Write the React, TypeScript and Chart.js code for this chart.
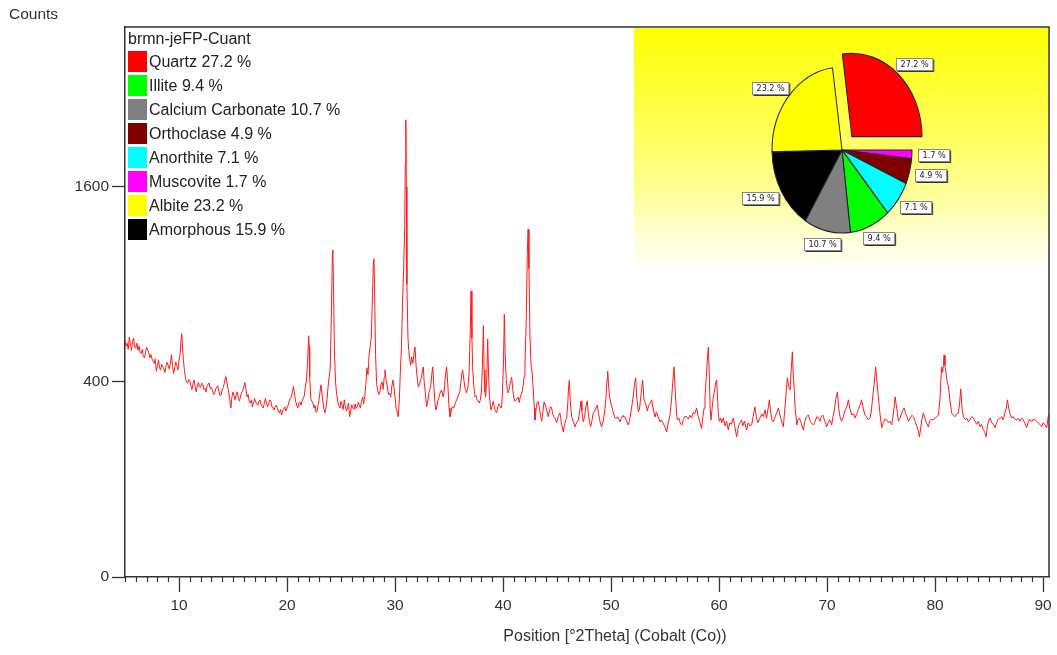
import React, { useEffect, useRef } from "react";
import { Chart, registerables } from "chart.js";

Chart.register(...registerables);

// ---------- data ----------
const sampleName = "brmn-jeFP-Cuant";
const yAxisTitle = "Counts";
const xAxisTitle = "Position [°2Theta] (Cobalt (Co))";

const xTickValues = [10, 20, 30, 40, 50, 60, 70, 80, 90];
const yTickCounts = [0, 400, 1600];
const xMin = 5;
const xMax = 90.55;
const yMaxCounts = 3180;

const phaseNames = ["Quartz", "Illite", "Calcium Carbonate", "Orthoclase", "Anorthite", "Muscovite", "Albite", "Amorphous"];
const phasePercents = [27.2, 9.4, 10.7, 4.9, 7.1, 1.7, 23.2, 15.9];
const phaseColors = ["#ff0000", "#00ff00", "#808080", "#800000", "#00ffff", "#ff00ff", "#ffff00", "#000000"];
const pieOrder = ["Quartz", "Muscovite", "Orthoclase", "Anorthite", "Illite", "Calcium Carbonate", "Amorphous", "Albite"];
const pieExploded = ["Quartz"];

// [2theta, counts]
const patternLow: number[][] = [
  [5.0, 590], [5.1, 560], [5.2, 575], [5.3, 545], [5.4, 605], [5.5, 570], [5.6, 540], [5.7, 580], [5.8, 600], [5.9, 555],
  [6.0, 550], [6.1, 575], [6.2, 540], [6.3, 560], [6.4, 530], [6.5, 525], [6.6, 545], [6.7, 510], [6.8, 505], [6.9, 530],
  [7.0, 555], [7.1, 540], [7.2, 530], [7.3, 505], [7.4, 520], [7.5, 500], [7.6, 490], [7.7, 480], [7.8, 500], [7.9, 445],
  [8.0, 470], [8.1, 495], [8.2, 460], [8.3, 450], [8.4, 475], [8.5, 465], [8.6, 455], [8.7, 440], [8.8, 470], [8.9, 485],
  [9.0, 470], [9.1, 455], [9.2, 480], [9.3, 520], [9.4, 470], [9.5, 435], [9.6, 460], [9.7, 485], [9.8, 470], [9.9, 450],
  [10.0, 495], [10.1, 520], [10.2, 600], [10.25, 622], [10.3, 580], [10.4, 500], [10.5, 450], [10.6, 415], [10.7, 400], [10.8, 395],
  [10.9, 410], [11.0, 405], [11.1, 385], [11.2, 370], [11.3, 395], [11.4, 408], [11.5, 380], [11.6, 360], [11.7, 385], [11.8, 398],
  [11.9, 380], [12.0, 378], [12.1, 395], [12.2, 390], [12.3, 370], [12.4, 375], [12.5, 360], [12.6, 380], [12.7, 390], [12.8, 396],
  [12.9, 372], [13.0, 378], [13.1, 365], [13.2, 350], [13.3, 356], [13.4, 372], [13.5, 380], [13.6, 385], [13.7, 360], [13.8, 345],
  [13.9, 350], [14.0, 368], [14.1, 378], [14.2, 395], [14.3, 418], [14.35, 422], [14.45, 395], [14.6, 360], [14.7, 330], [14.8, 300],
  [14.9, 340], [15.0, 360], [15.1, 345], [15.2, 330], [15.3, 352], [15.4, 360], [15.5, 335], [15.6, 325], [15.7, 345], [15.8, 358],
  [15.9, 366], [16.0, 380], [16.1, 398], [16.2, 370], [16.3, 341], [16.4, 350], [16.5, 325], [16.6, 318], [16.7, 330], [16.8, 304],
  [16.9, 320], [17.0, 335], [17.1, 322], [17.2, 315], [17.3, 310], [17.4, 325], [17.5, 330], [17.6, 312], [17.7, 305], [17.8, 300],
  [17.9, 318], [18.0, 335], [18.1, 318], [18.2, 304], [18.3, 315], [18.4, 330], [18.5, 325], [18.6, 305], [18.7, 300], [18.8, 293],
  [18.9, 305], [19.0, 310], [19.1, 300], [19.2, 290], [19.3, 283], [19.4, 295], [19.5, 276], [19.6, 290], [19.7, 298], [19.8, 304],
  [19.9, 290], [20.0, 300],
];

const patternMid: number[][] = [
  [20.1, 310], [20.2, 325], [20.3, 335], [20.4, 341], [20.5, 360], [20.6, 382], [20.7, 350], [20.8, 325], [20.9, 310], [21.0, 300],
  [21.1, 318], [21.2, 322], [21.3, 310], [21.4, 325], [21.5, 335], [21.6, 345], [21.7, 380], [21.8, 408], [21.9, 480], [22.0, 612],
  [22.05, 560], [22.1, 420], [22.2, 335], [22.3, 325], [22.4, 318], [22.5, 300], [22.6, 310], [22.7, 285], [22.8, 290], [22.9, 315],
  [23.0, 340], [23.1, 375], [23.15, 388], [23.3, 330], [23.4, 300], [23.5, 283], [23.6, 300], [23.7, 330], [23.8, 380], [23.9, 420],
  [24.0, 455], [24.1, 700], [24.2, 1100], [24.25, 1124], [24.3, 900], [24.4, 520], [24.5, 396], [24.6, 350], [24.7, 322], [24.8, 310],
  [24.9, 300], [25.0, 325], [25.1, 310], [25.2, 295], [25.3, 330], [25.4, 305], [25.5, 290], [25.6, 300], [25.7, 318], [25.8, 270],
  [25.9, 290], [26.0, 312], [26.1, 300], [26.2, 295], [26.3, 315], [26.4, 298], [26.5, 305], [26.6, 320], [26.7, 310], [26.8, 300],
  [26.9, 325], [27.0, 340], [27.1, 315], [27.2, 345], [27.3, 390], [27.4, 460], [27.5, 430], [27.6, 520], [27.7, 560], [27.8, 600],
  [27.9, 800], [28.0, 1050], [28.05, 1064], [28.1, 900], [28.2, 520], [28.3, 390], [28.4, 365], [28.5, 350], [28.6, 360], [28.7, 390],
  [28.8, 400], [28.9, 370], [29.0, 420], [29.07, 451], [29.2, 400], [29.3, 380], [29.4, 350], [29.5, 356], [29.6, 340], [29.7, 380],
  [29.8, 408], [29.9, 380], [30.0, 340], [30.1, 300], [30.2, 285], [30.3, 270], [30.4, 330], [30.5, 450], [30.6, 560], [30.7, 800],
  [30.8, 1000], [30.9, 1300], [30.95, 1800], [31.0, 2197], [31.05, 1600], [31.1, 900], [31.2, 600], [31.25, 556], [31.35, 500], [31.45, 470],
  [31.54, 509], [31.65, 480], [31.75, 520], [31.85, 556], [31.95, 470], [32.05, 420], [32.16, 380], [32.3, 395], [32.45, 420], [32.55, 450],
  [32.62, 464], [32.7, 400], [32.8, 360], [32.93, 304], [33.05, 330], [33.15, 360], [33.3, 380], [33.4, 430], [33.49, 464], [33.6, 380],
  [33.7, 320], [33.79, 293], [33.9, 310], [34.0, 330], [34.1, 345], [34.2, 360], [34.32, 368], [34.45, 340], [34.55, 360], [34.65, 420],
  [34.78, 464], [34.9, 380], [35.0, 300], [35.09, 270], [35.2, 290], [35.3, 305], [35.45, 300], [35.6, 320], [35.71, 330], [35.85, 345],
  [36.0, 360], [36.1, 400], [36.2, 440], [36.26, 451], [36.4, 400], [36.5, 370], [36.63, 356], [36.75, 380], [36.85, 430], [36.95, 600],
  [37.04, 860], [37.12, 600], [37.2, 450], [37.3, 380], [37.41, 341], [37.5, 345], [37.6, 330], [37.7, 325], [37.8, 318], [37.9, 330],
  [38.0, 360], [38.08, 450], [38.18, 664], [38.25, 450], [38.32, 360], [38.39, 340], [38.5, 420], [38.58, 596], [38.66, 430], [38.75, 340],
  [38.89, 293], [39.0, 310], [39.1, 325], [39.2, 300], [39.3, 290], [39.41, 283], [39.5, 300], [39.6, 315], [39.7, 310], [39.8, 300],
  [39.87, 304], [39.95, 360], [40.05, 500], [40.12, 727], [40.2, 520], [40.3, 410], [40.4, 370], [40.49, 356], [40.6, 380], [40.7, 400],
  [40.8, 420], [40.9, 370], [41.0, 340], [41.1, 325], [41.26, 330], [41.4, 340], [41.5, 320], [41.6, 340], [41.73, 356], [41.85, 380],
  [41.95, 420], [42.03, 464], [42.15, 700], [42.25, 1100], [42.32, 1271], [42.4, 1000], [42.5, 600], [42.6, 470], [42.7, 440], [42.8, 368],
  [42.9, 300], [42.96, 259], [43.05, 290], [43.15, 320], [43.27, 322], [43.4, 290], [43.5, 270], [43.58, 255], [43.7, 290], [43.8, 322],
  [43.88, 322], [44.0, 300], [44.1, 285], [44.19, 270], [44.3, 290], [44.4, 305], [44.5, 300], [44.6, 280], [44.7, 270], [44.8, 265],
  [44.97, 250],
];

const patternHigh: number[][] = [
  [45.1, 270], [45.27, 283], [45.4, 250], [45.58, 221], [45.7, 245], [45.8, 260], [45.89, 266], [46.0, 320], [46.07, 380], [46.14, 408],
  [46.22, 330], [46.35, 270], [46.5, 255], [46.66, 237], [46.8, 250], [46.97, 259], [47.1, 290], [47.22, 326], [47.3, 290], [47.43, 253],
  [47.55, 270], [47.65, 300], [47.8, 326], [47.9, 280], [48.0, 255], [48.11, 237], [48.25, 260], [48.36, 283], [48.5, 290], [48.6, 300],
  [48.73, 311], [48.85, 280], [49.0, 250], [49.13, 237], [49.3, 260], [49.45, 300], [49.55, 350], [49.63, 410], [49.69, 446], [49.78, 380],
  [49.87, 340], [49.97, 322], [50.1, 300], [50.2, 285], [50.37, 266], [50.5, 265], [50.6, 270], [50.7, 262], [50.83, 253], [50.95, 265],
  [51.1, 275], [51.2, 268], [51.29, 270], [51.45, 255], [51.6, 243], [51.75, 265], [51.91, 304], [52.05, 340], [52.18, 390], [52.28, 417],
  [52.38, 340], [52.53, 286], [52.65, 300], [52.8, 360], [52.93, 408], [53.05, 330], [53.15, 320], [53.24, 311], [53.35, 290], [53.5, 310],
  [53.65, 320], [53.76, 330], [53.9, 300], [54.0, 280], [54.07, 270], [54.2, 285], [54.35, 270], [54.53, 253], [54.65, 260], [54.8, 250],
  [54.95, 240], [55.15, 221], [55.3, 250], [55.46, 276], [55.6, 330], [55.72, 400], [55.83, 464], [55.95, 360], [56.05, 290], [56.14, 259],
  [56.3, 265], [56.4, 250], [56.54, 243], [56.7, 260], [56.85, 272], [57.0, 270], [57.15, 262], [57.3, 275], [57.46, 266], [57.6, 285],
  [57.75, 280], [57.93, 300], [58.05, 275], [58.2, 255], [58.39, 232], [58.5, 270], [58.62, 300], [58.7, 341], [58.82, 420], [58.92, 500],
  [59.01, 556], [59.1, 420], [59.18, 300], [59.26, 259], [59.36, 300], [59.47, 341], [59.6, 370], [59.7, 400], [59.78, 408], [59.88, 320],
  [59.95, 270], [60.03, 255], [60.15, 265], [60.25, 250], [60.4, 266], [60.55, 240], [60.7, 255], [60.86, 227], [61.0, 250], [61.15, 245],
  [61.32, 266], [61.45, 240], [61.63, 206], [61.8, 240], [61.95, 250], [62.09, 259], [62.2, 240], [62.35, 255], [62.56, 227], [62.7, 250],
  [62.85, 240], [63.02, 243], [63.15, 270], [63.33, 304], [63.45, 270], [63.6, 250], [63.79, 266], [63.95, 280], [64.1, 270], [64.26, 293],
  [64.4, 265], [64.55, 300], [64.66, 330], [64.8, 280], [64.9, 260], [65.03, 253], [65.2, 270], [65.35, 285], [65.49, 300], [65.6, 283],
  [65.75, 260], [65.95, 237], [66.1, 300], [66.25, 380], [66.33, 417], [66.45, 380], [66.58, 368], [66.68, 450], [66.79, 533], [66.88, 420],
  [66.95, 380], [67.05, 300], [67.2, 243], [67.3, 260], [67.44, 266], [67.6, 250], [67.81, 227], [67.95, 255], [68.1, 270], [68.27, 276],
  [68.4, 260], [68.55, 250], [68.74, 243], [68.9, 255], [69.05, 270], [69.2, 266], [69.35, 255], [69.45, 270], [69.6, 276], [69.8, 255],
  [69.97, 237],
];

const patternTail: number[][] = [
  [70.1, 250], [70.25, 260], [70.43, 243], [70.55, 270], [70.68, 293], [70.8, 330], [70.96, 360], [71.08, 300], [71.2, 270], [71.35, 255],
  [71.5, 270], [71.67, 293], [71.8, 300], [71.98, 330], [72.1, 300], [72.29, 276], [72.45, 280], [72.6, 266], [72.75, 280], [72.9, 295],
  [73.05, 310], [73.2, 330], [73.35, 300], [73.5, 276], [73.65, 270], [73.8, 260], [73.98, 266], [74.1, 290], [74.23, 341], [74.38, 400],
  [74.5, 464], [74.62, 400], [74.75, 341], [74.9, 280], [75.06, 234], [75.2, 250], [75.35, 262], [75.53, 259], [75.7, 250], [75.85, 255],
  [75.99, 243], [76.1, 270], [76.2, 300], [76.3, 341], [76.45, 300], [76.61, 255], [76.75, 265], [76.9, 280], [77.0, 290], [77.13, 300],
  [77.25, 285], [77.4, 270], [77.53, 255], [77.7, 265], [77.85, 275], [78.0, 270], [78.15, 255], [78.3, 240], [78.45, 225], [78.55, 206],
  [78.7, 240], [78.8, 265], [78.92, 283], [79.05, 265], [79.2, 250], [79.38, 237], [79.5, 255], [79.65, 262], [79.85, 259], [80.0, 265],
  [80.15, 270], [80.31, 276], [80.45, 330], [80.55, 420], [80.62, 464], [80.7, 440], [80.77, 470], [80.83, 518], [80.92, 470], [81.02, 438],
  [81.12, 400], [81.24, 380], [81.4, 320], [81.54, 283], [81.7, 275], [81.85, 270], [82.0, 280], [82.16, 283], [82.28, 320], [82.38, 372],
  [82.5, 300], [82.62, 270], [82.8, 260], [82.95, 265], [83.09, 253], [83.25, 260], [83.4, 270], [83.55, 266], [83.7, 255], [83.85, 245],
  [84.0, 255], [84.17, 237], [84.3, 245], [84.45, 230], [84.6, 220], [84.72, 206], [84.85, 240], [84.95, 255], [85.1, 266], [85.25, 250],
  [85.4, 245], [85.56, 234], [85.7, 250], [85.85, 262], [86.0, 265], [86.17, 270], [86.3, 260], [86.45, 280], [86.6, 300], [86.7, 330],
  [86.82, 300], [86.95, 280], [87.1, 266], [87.25, 270], [87.4, 262], [87.56, 259], [87.7, 265], [87.85, 255], [88.03, 266], [88.15, 260],
  [88.3, 250], [88.49, 234], [88.6, 250], [88.75, 262], [88.95, 253], [89.1, 262], [89.25, 260], [89.42, 255], [89.55, 250], [89.7, 245],
  [89.88, 237], [90.0, 250], [90.15, 245], [90.34, 234], [90.5, 276],
];

// ---------- styling ----------
const FONT = "'Liberation Sans', Arial, Helvetica, sans-serif";
const AXIS_COLOR = "#333";
const PIE_SQUASH = 83 / 70;

const framePlugin = {
  id: "frameAndMinorTicks",
  afterDraw(chart: any) {
    const { ctx, chartArea } = chart;
    const xs = chart.scales.x;
    ctx.save();
    ctx.strokeStyle = AXIS_COLOR;
    ctx.lineWidth = 1.5;
    ctx.beginPath();
    ctx.moveTo(chartArea.left, chartArea.top);
    ctx.lineTo(chartArea.right, chartArea.top);
    ctx.lineTo(chartArea.right, chartArea.bottom);
    ctx.stroke();
    ctx.lineWidth = 1.2;
    ctx.beginPath();
    for (let v = Math.ceil(xMin); v <= Math.floor(xMax); v++) {
      if (v % 10 === 0) continue;
      const px = Math.round(xs.getPixelForValue(v)) + 0.5;
      ctx.moveTo(px, chartArea.bottom);
      ctx.lineTo(px, chartArea.bottom + 5);
    }
    ctx.stroke();
    ctx.restore();
  },
};

const piePlugin = {
  id: "ellipseLabels",
  beforeDatasetsDraw(chart: any) {
    const arc = chart.getDatasetMeta(0).data[0];
    const ctx = chart.ctx;
    ctx.save();
    ctx.translate(arc.x, arc.y);
    ctx.scale(1, PIE_SQUASH);
    ctx.translate(-arc.x, -arc.y);
  },
  afterDatasetsDraw(chart: any) {
    const ctx = chart.ctx;
    ctx.restore();
    const meta = chart.getDatasetMeta(0);
    const values = chart.data.datasets[0].data;
    ctx.save();
    ctx.font = `9px 'Liberation Sans Narrow', 'DejaVu Sans Condensed', ${FONT}`;
    ctx.textAlign = "center";
    ctx.textBaseline = "middle";
    meta.data.forEach((el: any, i: number) => {
      const mid = (el.startAngle + el.endAngle) / 2;
      const circ = el.endAngle - el.startAngle;
      const off = ((el.options.offset || 0) / 4) * (2 - Math.sin(Math.min(Math.PI, circ)));
      const dx = Math.cos(mid);
      const dy = Math.sin(mid);
      const r = el.outerRadius + off + 6;
      const text = `${Number(values[i]).toFixed(1)} %`;
      const w = ctx.measureText(text).width + 8;
      const h = 12;
      const cx = el.x + dx * r + (dx * w) / 2;
      const cy = el.y + dy * r * PIE_SQUASH + (dy * h) / 2;
      const bx = Math.round(cx - w / 2) + 0.5;
      const by = Math.round(cy - h / 2) + 0.5;
      ctx.fillStyle = "#fff";
      ctx.fillRect(bx, by, w, h);
      ctx.strokeStyle = "#888";
      ctx.lineWidth = 1;
      ctx.strokeRect(bx, by, w, h);
      ctx.strokeStyle = "#333";
      ctx.beginPath();
      ctx.moveTo(bx + 1, by + h + 1);
      ctx.lineTo(bx + w + 1, by + h + 1);
      ctx.lineTo(bx + w + 1, by + 1);
      ctx.stroke();
      ctx.fillStyle = "#222";
      ctx.fillText(text, bx + w / 2, by + h / 2 + 0.5);
    });
    ctx.restore();
  },
};

export default function App() {
  const mainRef = useRef<HTMLCanvasElement | null>(null);
  const pieRef = useRef<HTMLCanvasElement | null>(null);

  useEffect(() => {
    const pattern = [...patternLow, ...patternMid, ...patternHigh, ...patternTail];
    const main = new Chart(mainRef.current as HTMLCanvasElement, {
      type: "line",
      data: {
        datasets: [
          {
            data: pattern.map(([x, c]) => ({ x, y: Math.sqrt(c) })),
            borderColor: "#ff1a1a",
            borderWidth: 1,
            pointRadius: 0,
            tension: 0,
            fill: false,
          },
        ],
      },
      options: {
        animation: false,
        responsive: false,
        events: [],
        layout: { padding: { top: 27, right: 8, left: 0, bottom: 0 } },
        plugins: { legend: { display: false }, tooltip: { enabled: false } },
        scales: {
          x: {
            type: "linear",
            min: xMin,
            max: xMax,
            afterBuildTicks: (s: any) => {
              s.ticks = xTickValues.map((v) => ({ value: v }));
            },
            afterFit: (s: any) => {
              s.height = 78;
              s.paddingLeft = 0;
              s.paddingRight = 0;
            },
            grid: { drawOnChartArea: false, drawTicks: true, tickLength: 15, tickColor: AXIS_COLOR, tickWidth: 1.3 },
            border: { display: true, color: AXIS_COLOR, width: 1.5 },
            ticks: {
              color: "#333",
              padding: 4,
              autoSkip: false,
              maxRotation: 0,
              font: { family: FONT, size: 15.5 },
              callback: (v: any) => String(v),
            },
          },
          y: {
            type: "linear",
            min: 0,
            max: Math.sqrt(yMaxCounts),
            afterBuildTicks: (s: any) => {
              s.ticks = yTickCounts.map((c) => ({ value: Math.sqrt(c) }));
            },
            afterFit: (s: any) => {
              s.width = 125;
              s.paddingTop = 0;
              s.paddingBottom = 0;
            },
            grid: { drawOnChartArea: false, drawTicks: true, tickLength: 13, tickColor: AXIS_COLOR, tickWidth: 1.3 },
            border: { display: true, color: AXIS_COLOR, width: 1.5 },
            ticks: {
              color: "#333",
              padding: 3,
              font: { family: FONT, size: 15.5 },
              callback: (v: any) => String(Math.round(Number(v) * Number(v))),
            },
          },
        },
      },
      plugins: [framePlugin],
    } as any);

    const pieValues = pieOrder.map((n) => phasePercents[phaseNames.indexOf(n)]);
    const pieColors = pieOrder.map((n) => phaseColors[phaseNames.indexOf(n)]);
    const pieOffsets = pieOrder.map((n) => (pieExploded.includes(n) ? 60 : 0));
    const pie = new Chart(pieRef.current as HTMLCanvasElement, {
      type: "pie",
      data: {
        labels: pieOrder,
        datasets: [
          {
            data: pieValues,
            backgroundColor: pieColors,
            borderColor: "#222",
            borderWidth: 1,
            offset: pieOffsets,
            clip: false,
          },
        ],
      },
      options: {
        animation: false,
        responsive: false,
        events: [],
        radius: 70,
        rotation: -7.8,
        layout: { padding: { top: 4, left: 2, right: 0, bottom: 0 } },
        plugins: { legend: { display: false }, tooltip: { enabled: false } },
      },
      plugins: [piePlugin],
    } as any);

    return () => {
      main.destroy();
      pie.destroy();
    };
  }, []);

  const textStyle: React.CSSProperties = { fontFamily: FONT, color: "#222", whiteSpace: "nowrap" };

  return (
    <div style={{ position: "absolute", left: 0, top: 0, width: 1057, height: 655, background: "#fff", overflow: "hidden" }}>
      <canvas ref={mainRef} width={1057} height={655} style={{ position: "absolute", left: 0, top: 0, width: 1057, height: 655 }} />
      <div style={{ ...textStyle, position: "absolute", left: 9, top: 5, fontSize: 15.5, lineHeight: "18px", color: "#333" }}>{yAxisTitle}</div>
      <div
        style={{
          ...textStyle,
          position: "absolute",
          left: 615,
          top: 626,
          transform: "translateX(-50%)",
          fontSize: 16,
          lineHeight: "19px",
          color: "#333",
        }}
      >
        {xAxisTitle}
      </div>
      <div style={{ ...textStyle, position: "absolute", left: 128, top: 29, fontSize: 16, lineHeight: "20px" }}>{sampleName}</div>
      {phaseNames.map((name, i) => (
        <div key={name} style={{ position: "absolute", left: 128, top: 51 + 24 * i, height: 21, display: "flex", alignItems: "center" }}>
          <div style={{ width: 19, height: 21, background: phaseColors[i] }} />
          <div style={{ ...textStyle, marginLeft: 2, fontSize: 16, lineHeight: "21px" }}>{`${name} ${phasePercents[i].toFixed(1)} %`}</div>
        </div>
      ))}
      <div
        style={{
          position: "absolute",
          left: 634,
          top: 28,
          width: 414,
          height: 240,
          background: "linear-gradient(to bottom, #ffff00 0%, #ffff22 15%, #ffff5c 45%, #ffff9c 70%, #ffffd8 88%, #fffff6 100%)",
        }}
      >
        <canvas ref={pieRef} width={414} height={240} style={{ display: "block", width: 414, height: 240 }} />
      </div>
    </div>
  );
}
